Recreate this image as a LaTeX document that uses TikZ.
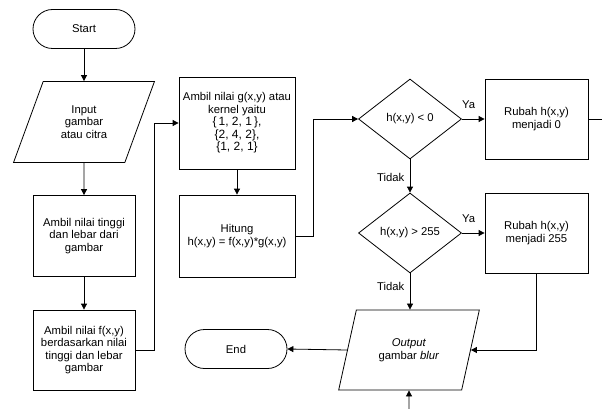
\documentclass[tikz,border=0pt]{standalone}
\usepackage{fontspec}
\setmainfont{Liberation Sans}
\usetikzlibrary{shapes.geometric,arrows.meta}
\tikzset{
    every node/.style={font=\fontsize{11.3}{12.5}\selectfont,align=center},
    terminal/.style={draw,rectangle,rounded corners=19.5pt,minimum width=102,minimum height=39},
    process/.style={draw,rectangle,inner sep=1pt},
    io/.style={draw,trapezium,trapezium stretches=true,minimum width=141,minimum height=80},
    decision/.style={draw,diamond,inner sep=1pt,minimum width=103,minimum height=80},
    flow/.style={-{Triangle[length=6pt,width=6pt]}},
}
\begin{document}
\begin{tikzpicture}[x=1pt,y=-1pt,line width=0.8pt]
        \useasboundingbox (0,0) rectangle (602,409);
        %% left column
        \node[terminal] (start) at (84,29) {Start};
        \node[io,trapezium left angle=64,trapezium right angle=116,minimum height=81] (input) at (84,122) {Input\\gambar\\atau citra};
        \node[process,minimum width=102,minimum height=81] (size) at (84,236) {Ambil nilai tinggi\\dan lebar dari\\gambar};
        \node[process,minimum width=102,minimum height=80] (fxy) at (84,350) {Ambil nilai f(x,y)\\berdasarkan nilai\\tinggi dan lebar\\gambar};
        %% middle column
        \node[process,minimum width=116,minimum height=92] (kernel) at (237,123)
            {Ambil nilai g(x,y) atau\\kernel yaitu\\{\fontsize{12}{14}\selectfont\{\,1, 2, 1\,\},}\\{\fontsize{12}{14}\selectfont\{2, 4, 2\},}\\{\fontsize{12}{14}\selectfont\{1, 2, 1\}}};
        \node[process,minimum width=116,minimum height=82] (conv) at (237,236) {Hitung\\h(x,y) = f(x,y)*g(x,y)};
        \node[terminal] (end) at (236,349) {End};
        %% decisions
        \node[decision] (less) at (410,119) {h(x,y) < 0};
        \node[decision] (more) at (410,233) {h(x,y) > 255};
        \node[io,trapezium left angle=69,trapezium right angle=111] (output) at (409,350) {\textit{Output}\\gambar \textit{blur}};
        %% right column
        \node[process,minimum width=103,minimum height=80] (zero) at (536.5,119) {Rubah h(x,y)\\menjadi 0};
        \node[process,minimum width=103,minimum height=80] (max) at (536.5,233) {Rubah h(x,y)\\menjadi 255};
        \coordinate (out) at (602,119);
        \coordinate (in) at (409,409);
        %% connectors
        \draw[flow] (start) -- (input);
        \draw[flow] (input) -- (size);
        \draw[flow] (size) -- (fxy);
        \draw[flow] (fxy.east) -- ++(19,0) |- (kernel.west);
        \draw[flow] (kernel) -- (conv);
        \draw[flow] (conv.east) -- ++(18,0) |- (less.west);
        \draw[flow] (less.east) -- (zero.west) node[pos=0.3,anchor=south,yshift=7pt] {Ya};
        \draw (zero.east) -- (out);
        \draw[flow] (less.south) -- (more.north) node[pos=0.55,anchor=east,xshift=-2pt] {Tidak};
        \draw[flow] (more.east) -- (max.west) node[pos=0.3,anchor=south,yshift=7pt] {Ya};
        \draw[flow] (more.south) -- (more.south |- output.north) node[pos=0.35,anchor=east,xshift=-2pt] {Tidak};
        \draw[flow] (max.south) |- (output);
        \draw[flow] (output.west) -- (end.east);
        \draw[{Triangle[length=6pt,width=6pt]}-] (output.south) -- (in);
    \end{tikzpicture}
\end{document}
